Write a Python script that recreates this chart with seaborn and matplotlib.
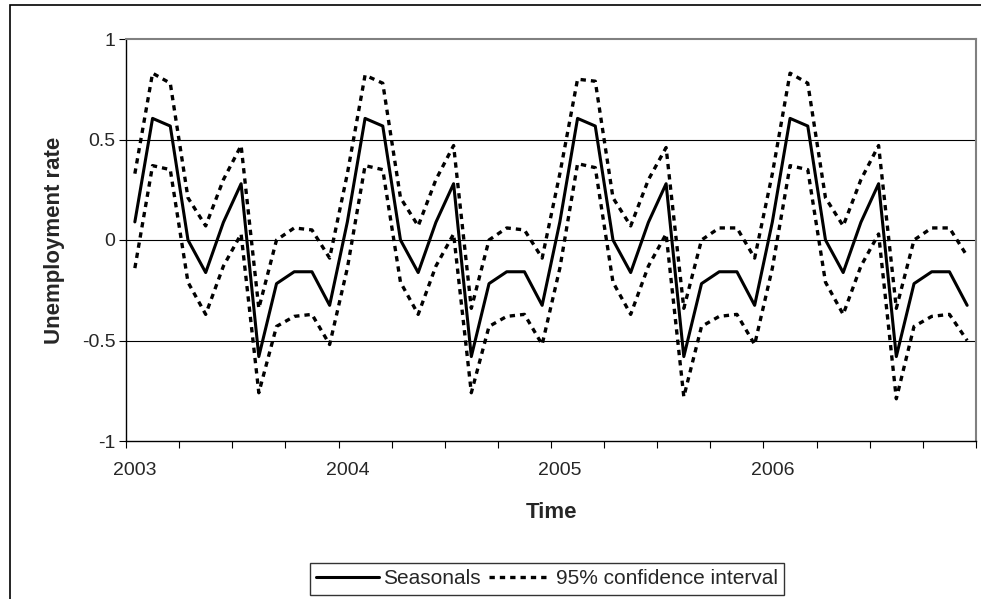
import numpy as np
import pandas as pd
import matplotlib
matplotlib.use("Agg")
import matplotlib.pyplot as plt
from matplotlib.lines import Line2D
from matplotlib.patches import Rectangle
import seaborn as sns

# monthly points, Jan 2003 .. Dec 2006
months = list(range(48))
year_labels = ["2003", "2004", "2005", "2006"]

seasonals = [
    0.09, 0.605, 0.567, 0.0, -0.162, 0.088, 0.28, -0.58, -0.217, -0.158, -0.158, -0.325,
    0.09, 0.605, 0.567, 0.0, -0.162, 0.088, 0.28, -0.58, -0.217, -0.158, -0.158, -0.325,
    0.09, 0.605, 0.567, 0.0, -0.162, 0.088, 0.28, -0.58, -0.217, -0.158, -0.158, -0.325,
    0.09, 0.605, 0.567, 0.0, -0.162, 0.088, 0.28, -0.58, -0.217, -0.158, -0.158, -0.325,
]
upper = [
    0.33, 0.83, 0.78, 0.21, 0.07, 0.30, 0.47, -0.34, 0.0, 0.06, 0.05, -0.09,
    0.33, 0.82, 0.78, 0.21, 0.07, 0.30, 0.47, -0.34, 0.0, 0.06, 0.05, -0.09,
    0.33, 0.80, 0.79, 0.21, 0.07, 0.30, 0.46, -0.34, 0.0, 0.06, 0.06, -0.09,
    0.33, 0.83, 0.78, 0.21, 0.07, 0.30, 0.47, -0.34, 0.0, 0.06, 0.06, -0.08,
]
lower = [
    -0.14, 0.37, 0.35, -0.21, -0.37, -0.13, 0.03, -0.76, -0.43, -0.38, -0.37, -0.52,
    -0.14, 0.37, 0.35, -0.21, -0.37, -0.13, 0.03, -0.76, -0.43, -0.38, -0.37, -0.52,
    -0.14, 0.38, 0.36, -0.21, -0.37, -0.13, 0.03, -0.78, -0.43, -0.38, -0.37, -0.52,
    -0.14, 0.37, 0.35, -0.21, -0.37, -0.13, 0.03, -0.79, -0.43, -0.38, -0.37, -0.50,
]

df = pd.DataFrame({"month": months, "seasonals": seasonals, "upper": upper, "lower": lower})

sns.set_style("white")
plt.rcParams["font.family"] = ["Liberation Sans", "DejaVu Sans"]

fig = plt.figure(figsize=(9.81, 5.99), dpi=100)
ax = fig.add_axes([126 / 981, 158 / 599, 850 / 981, 402 / 599])

dash = (0, (1.6, 1.5))
sns.lineplot(data=df, x="month", y="upper", ax=ax, color="black", lw=2.4, linestyle=dash)
sns.lineplot(data=df, x="month", y="lower", ax=ax, color="black", lw=2.4, linestyle=dash)
sns.lineplot(data=df, x="month", y="seasonals", ax=ax, color="black", lw=2.2)

ax.set_xlim(-0.5, 47.5)
ax.set_ylim(-1, 1)

# y axis
yt = [-1, -0.5, 0, 0.5, 1]
ax.set_yticks(yt)
ax.set_yticklabels(["-1", "-0.5", "0", "0.5", "1"], fontsize=14)
ax.tick_params(axis="y", direction="out", length=5, width=0.8, color="black", pad=2.5, left=True)
for v in [-0.5, 0, 0.5]:
    ax.axhline(v, color="black", lw=0.8, zorder=0)

# x axis: labels centred on January, tick marks every 3 months
ax.set_xticks([0, 12, 24, 36])
ax.set_xticklabels(year_labels, fontsize=14)
ax.set_xticks(np.arange(-0.5, 48, 3), minor=True)
ax.tick_params(axis="x", which="major", length=0, pad=15)
ax.tick_params(axis="x", which="minor", direction="out", length=5, width=0.8, color="black", bottom=True)

for s in ["left", "bottom"]:
    ax.spines[s].set_color("black")
    ax.spines[s].set_linewidth(1.0)
for s in ["top", "right"]:
    ax.spines[s].set_color("#808080")
    ax.spines[s].set_linewidth(1.5)

ax.set_xlabel("Time", fontsize=16, fontweight="bold")
ax.xaxis.set_label_coords(0.5, -0.179)
ax.xaxis.label.set_va("center")
ax.set_ylabel("Unemployment rate", fontsize=16, fontweight="bold")
ax.yaxis.set_label_coords(-0.084, 0.5)
ax.yaxis.label.set_va("center")

handles = [
    Line2D([], [], color="black", lw=2.2),
    Line2D([], [], color="black", lw=2.4, linestyle=dash),
]
leg = fig.legend(handles, ["Seasonals", "95% confidence interval"], loc="center",
                 bbox_to_anchor=(547 / 981, 1 - 579 / 599), ncol=2, fontsize=15,
                 frameon=True, fancybox=False, handlelength=3.0, handletextpad=0.2,
                 columnspacing=0.4, borderpad=0.3, borderaxespad=0)
leg.get_frame().set_edgecolor("black")
leg.get_frame().set_linewidth(1.0)

# outer chart border (partly cropped in the original)
fig.patches.append(Rectangle((10 / 981, -0.1), 1.2, 1.1 - 5 / 599, transform=fig.transFigure,
                             fill=False, edgecolor="black", lw=1.2))

fig.savefig("out.png", dpi=100)
